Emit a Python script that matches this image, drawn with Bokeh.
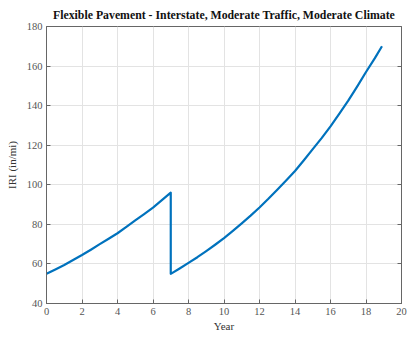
from bokeh.plotting import figure
from bokeh.models import Range1d, LinearAxis
from bokeh.embed import file_html
from bokeh.resources import INLINE

# IRI history: first cycle (years 0-7), then rehabilitation resets IRI and the second cycle begins
years_cycle1 = [0, 0.5, 1, 1.5, 2, 2.5, 3, 3.5, 4, 4.5, 5, 5.5, 6, 6.5, 7]
iri_cycle1 = [55, 57.2, 59.5, 62, 64.5, 67.2, 70, 72.7, 75.5, 78.7, 82, 85.2, 88.5, 92.2, 96]
years_cycle2 = [7, 7.5, 8, 8.5, 9, 9.5, 10, 10.5, 11, 11.5, 12, 12.5, 13, 13.5,
                14, 14.5, 15, 15.5, 16, 16.5, 17, 17.5, 18, 18.5, 18.9]
iri_cycle2 = [55, 57.7, 60.5, 63.4, 66.5, 69.7, 73, 76.7, 80.5, 84.4, 88.5, 92.9, 97.5, 102.2,
              107, 112.4, 118, 123.6, 129.5, 136, 142.5, 149.6, 157, 164, 170]

x_ticks = list(range(0, 21, 2))
y_ticks = list(range(40, 181, 20))

FONT = "Liberation Serif"
AXIS_COLOR = "#666666"
LABEL_COLOR = "#555555"

p = figure(
    width=409, height=339,
    x_range=Range1d(0, 20), y_range=Range1d(40, 180),
    output_backend="svg", toolbar_location=None,
    min_border_left=46, min_border_right=8,
    min_border_top=24, min_border_bottom=36,
    title="Flexible Pavement - Interstate, Moderate Traffic, Moderate Climate",
)

p.title.text_font = FONT
p.title.text_font_size = "11.8px"
p.title.text_font_style = "bold"
p.title.text_color = "#111111"
p.title.align = "center"

p.outline_line_color = AXIS_COLOR
p.outline_line_width = 1
p.background_fill_color = "white"
p.border_fill_color = "white"

# combine the two cycles into one continuous path with the vertical drop at year 7
xs = years_cycle1 + years_cycle2
ys = iri_cycle1 + iri_cycle2
p.line(xs, ys, line_color="#0072BD", line_width=2.2, line_join="round")

for ax, ticks in ((p.xaxis[0], x_ticks), (p.yaxis[0], y_ticks)):
    ax.ticker = ticks
    ax.major_tick_in = 4
    ax.major_tick_out = 0
    ax.minor_tick_line_color = None
    ax.axis_line_color = AXIS_COLOR
    ax.major_tick_line_color = AXIS_COLOR
    ax.major_label_text_font = FONT
    ax.major_label_text_font_size = "10.5px"
    ax.major_label_text_color = LABEL_COLOR
    ax.axis_label_text_font = FONT
    ax.axis_label_text_font_size = "11px"
    ax.axis_label_text_font_style = "normal"
    ax.axis_label_text_color = "#333333"
    ax.major_label_standoff = 4

p.xaxis.axis_label = "Year"
p.yaxis.axis_label = "IRI (in/mi)"
p.xaxis.axis_label_standoff = 2
p.yaxis.axis_label_standoff = 6

# mirrored ticks on the right edge of the box, without labels
right_ax = LinearAxis(ticker=y_ticks, major_tick_in=4, major_tick_out=0,
                      minor_tick_line_color=None, axis_line_color=AXIS_COLOR,
                      major_tick_line_color=AXIS_COLOR,
                      major_label_overrides={t: "" for t in y_ticks},
                      major_label_standoff=0)
p.add_layout(right_ax, "right")

p.xgrid.ticker = x_ticks
p.ygrid.ticker = y_ticks
p.grid.grid_line_color = "#e3e3e3"
p.grid.grid_line_width = 1

open("out.html", "w").write(file_html(p, INLINE))
